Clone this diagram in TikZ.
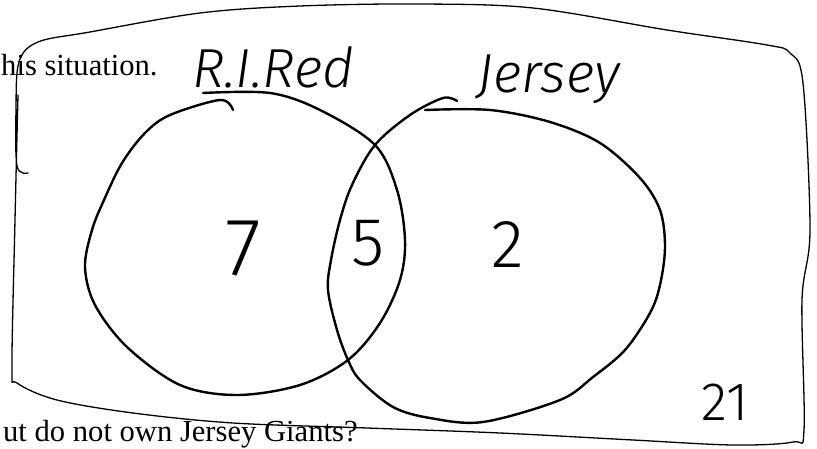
\documentclass[tikz,border=0pt]{standalone}
\usepackage{fontspec}
\setmainfont{Liberation Serif}
\newfontfamily\handfont{Fira Sans Light}
\usetikzlibrary{positioning}
\tikzset{
    boxline/.style={line width=1.3pt, line join=round, line cap=round},
    ring/.style={line width=2.4pt, line join=round, line cap=round},
    printed/.style={font=\fontsize{30.6}{32}\selectfont, inner sep=0pt, anchor=base west},
    hand/.style={font=\handfont\itshape\fontsize{55}{55}\selectfont, inner sep=0pt, anchor=base west},
    digit/.style={font=\handfont\fontsize{#1}{#1}\selectfont, inner sep=0pt},
}

\begin{document}
\begin{tikzpicture}[x=1pt, y=-1pt]

\useasboundingbox (0,0) rectangle (817,449);
\clip (0,0) rectangle (817,449);

% Printed question text
\node[printed] (top) at (1,76) {his situation.};
\node[printed] (bottom) at (3,441) {ut do not own Jersey Giants?};

% ── Universe box ──
\draw[boxline] plot[smooth, tension=0.55] coordinates {
    (28,173) (17,166) (16,110) (19,62) (38,42) (90,32) (200,13) (300,6)
    (420,4) (533,8) (667,30) (767,45) (790,53) (803,83) (810,230)
    (802,300) (804,430) (793,442) (733,445) (633,440) (500,433)
    (367,428) (233,423) (133,413) (57,400) (17,383) (12,367) (15,220) (18,95)};

% ── R.I.Red set ──
\draw[ring] plot[smooth, tension=0.55] coordinates {
    (203,93) (270,93) (320,110) (375,145) (397,190) (405,240) (400,280)
    (380,323) (348,360) (300,385) (237,395) (180,385) (127,347) (95,305)
    (85,267) (92,230) (104,200) (122,163) (145,133) (170,115) (220,100) (233,110)};

% ── Jersey set ──
\draw[ring] plot[smooth, tension=0.55] coordinates {
    (425,110) (490,110) (550,122) (600,143) (640,178) (660,210) (665,247)
    (660,285) (650,313) (625,350) (593,377) (560,400) (483,422) (430,418)
    (393,407) (360,380) (348,360) (337,330) (328,290) (331,260) (340,220)
    (352,185) (375,145) (410,115) (443,98) (457,101)};

% Set labels
\node[hand] (rired) at (192,88) {R.I.Red};
\node[hand] (jersey) at (477,93) {Jersey};

% Region counts
\node[digit=82] (onlyred) at (243,249) {7};
\node[digit=68] (both) at (368,243) {5};
\node[digit=68] (onlyjersey) at (508,245) {2};
\node[digit=54] (total) at (725,402) {21};

\end{tikzpicture}
\end{document}
